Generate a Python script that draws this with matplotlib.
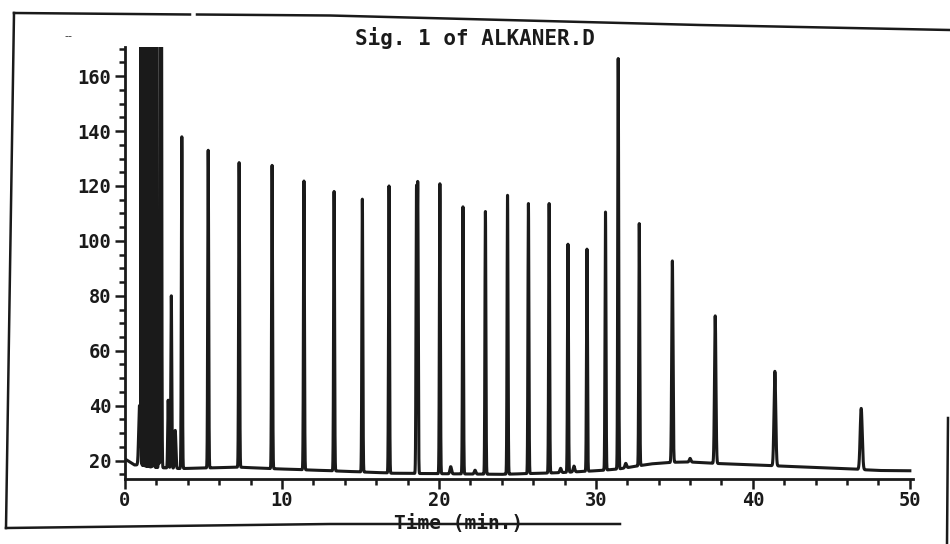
import numpy as np
import matplotlib.pyplot as plt
from matplotlib.lines import Line2D
from matplotlib.ticker import MultipleLocator

# detector baseline (time in min, signal)
base_t = [0, 0.6, 0.9, 1.6, 3.5, 7.3, 9.2, 13.1, 16.3, 17.0, 24.0, 27.7,
          30.3, 31.5, 33.5, 35.0, 36.0, 37.5, 41.0, 46.0, 48.0, 50.0]
base_v = [20.6, 18.4, 18.4, 17.6, 17.1, 17.6, 17.1, 16.3, 15.6, 15.4, 15.0, 15.6,
          16.4, 17.0, 18.8, 19.4, 19.5, 19.0, 18.2, 17.0, 16.4, 16.3]

# solvent front: a dense run of overloaded spikes that go off the top of the scale
solvent_t = [0.92, 1.02, 1.07, 1.12, 1.17, 1.22, 1.27, 1.32, 1.37, 1.42, 1.47,
             1.52, 1.57, 1.62, 1.67, 1.72, 1.80, 1.88, 1.93, 1.98, 2.03,
             2.15, 2.30, 2.75, 2.95, 3.20]
solvent_top = [40, 400, 420, 400, 430, 410, 420, 400, 430, 410, 420,
               400, 410, 390, 400, 380, 50, 300, 320, 300, 260,
               31, 320, 42, 80, 31]
solvent_w = [0.05] + [0.006] * 15 + [0.03] + [0.006] * 4 + [0.02, 0.03, 0.03, 0.03, 0.04]

# n-alkane peaks: retention time (min) and apex signal
peak_t = [3.62, 5.30, 7.27, 9.37, 11.40, 13.32, 15.12, 16.82, 18.57, 18.65,
          20.06, 21.53, 22.96, 24.37, 25.70, 27.02, 28.22, 29.43, 30.61, 31.42,
          32.76, 34.87, 37.60, 41.40, 46.90]
peak_top = [137.9, 133.0, 128.5, 127.5, 121.8, 118.0, 115.2, 120.0, 117.0, 118.4,
            120.8, 112.4, 110.7, 116.6, 113.6, 113.6, 98.8, 97.0, 110.5, 166.4,
            106.3, 92.7, 72.7, 52.5, 39.0]
peak_w = [0.03] * 21 + [0.04, 0.045, 0.055, 0.065]

# minor impurities
minor_t = [20.75, 22.3, 27.75, 28.6, 31.9, 36.0]
minor_top = [17.8, 16.5, 17.2, 18.0, 19.0, 20.8]

t = np.linspace(0, 50, 50001)
baseline = np.interp(t, base_t, base_v)
signal = baseline.copy()
for tc, top, w in zip(solvent_t + peak_t + minor_t,
                      solvent_top + peak_top + minor_top,
                      solvent_w + peak_w + [0.05] * len(minor_t)):
    amp = top - np.interp(tc, base_t, base_v)
    signal += amp * np.exp(-0.5 * ((t - tc) / w) ** 2)

font = {'family': 'DejaVu Sans Mono', 'weight': 'bold'}
ink = '#1a1a1a'

fig = plt.figure(figsize=(9.5, 5.44), dpi=100)
ax = fig.add_axes([125 / 950, 1 - 479 / 544, 788 / 950, 432 / 544])

ax.plot(t, signal, color=ink, lw=2.2, solid_joinstyle='round')

ax.set_xlim(0, 50.2)
ax.set_ylim(13.3, 170.6)
ax.xaxis.set_major_locator(MultipleLocator(10))
ax.xaxis.set_minor_locator(MultipleLocator(2))
ax.yaxis.set_minor_locator(MultipleLocator(5))
ax.set_yticks(range(20, 161, 20))

for side in ['top', 'right']:
    ax.spines[side].set_visible(False)
for side in ['left', 'bottom']:
    ax.spines[side].set_linewidth(2)
    ax.spines[side].set_color(ink)

ax.tick_params(which='major', direction='out', length=7, width=1.8, color=ink, pad=3)
ax.tick_params(which='minor', direction='out', length=4, width=1.8, color=ink)
ax.tick_params(axis='x', which='major', pad=2)
for lab in ax.get_xticklabels() + ax.get_yticklabels():
    lab.set_fontfamily(font['family'])
    lab.set_fontweight('bold')
    lab.set_fontsize(13.5)
    lab.set_color(ink)

fig.text(475 / 950, 1 - 38 / 544, 'Sig. 1 of ALKANER.D', ha='center', va='center',
         fontsize=15, color=ink, **font)
fig.text(459 / 950, 1 - 524 / 544, 'Time (min.)', ha='center', va='center',
         fontsize=14, color=ink, **font)
fig.text(68 / 950, 1 - 36 / 544, '--', ha='center', va='center',
         fontsize=8, color='#333333')

# page border of the printout
def border(xs, ys):
    fig.add_artist(Line2D([x / 950 for x in xs], [1 - y / 544 for y in ys],
                          transform=fig.transFigure, color=ink, lw=1.8))

border([14, 190], [13, 14.5])
border([197, 330, 700, 950], [14.5, 15.5, 25, 30])
border([14, 6], [13, 528])
border([6, 330, 620], [528, 524, 524])
border([948, 947], [418, 544])

fig.savefig('out.png', dpi=100, facecolor='white')
